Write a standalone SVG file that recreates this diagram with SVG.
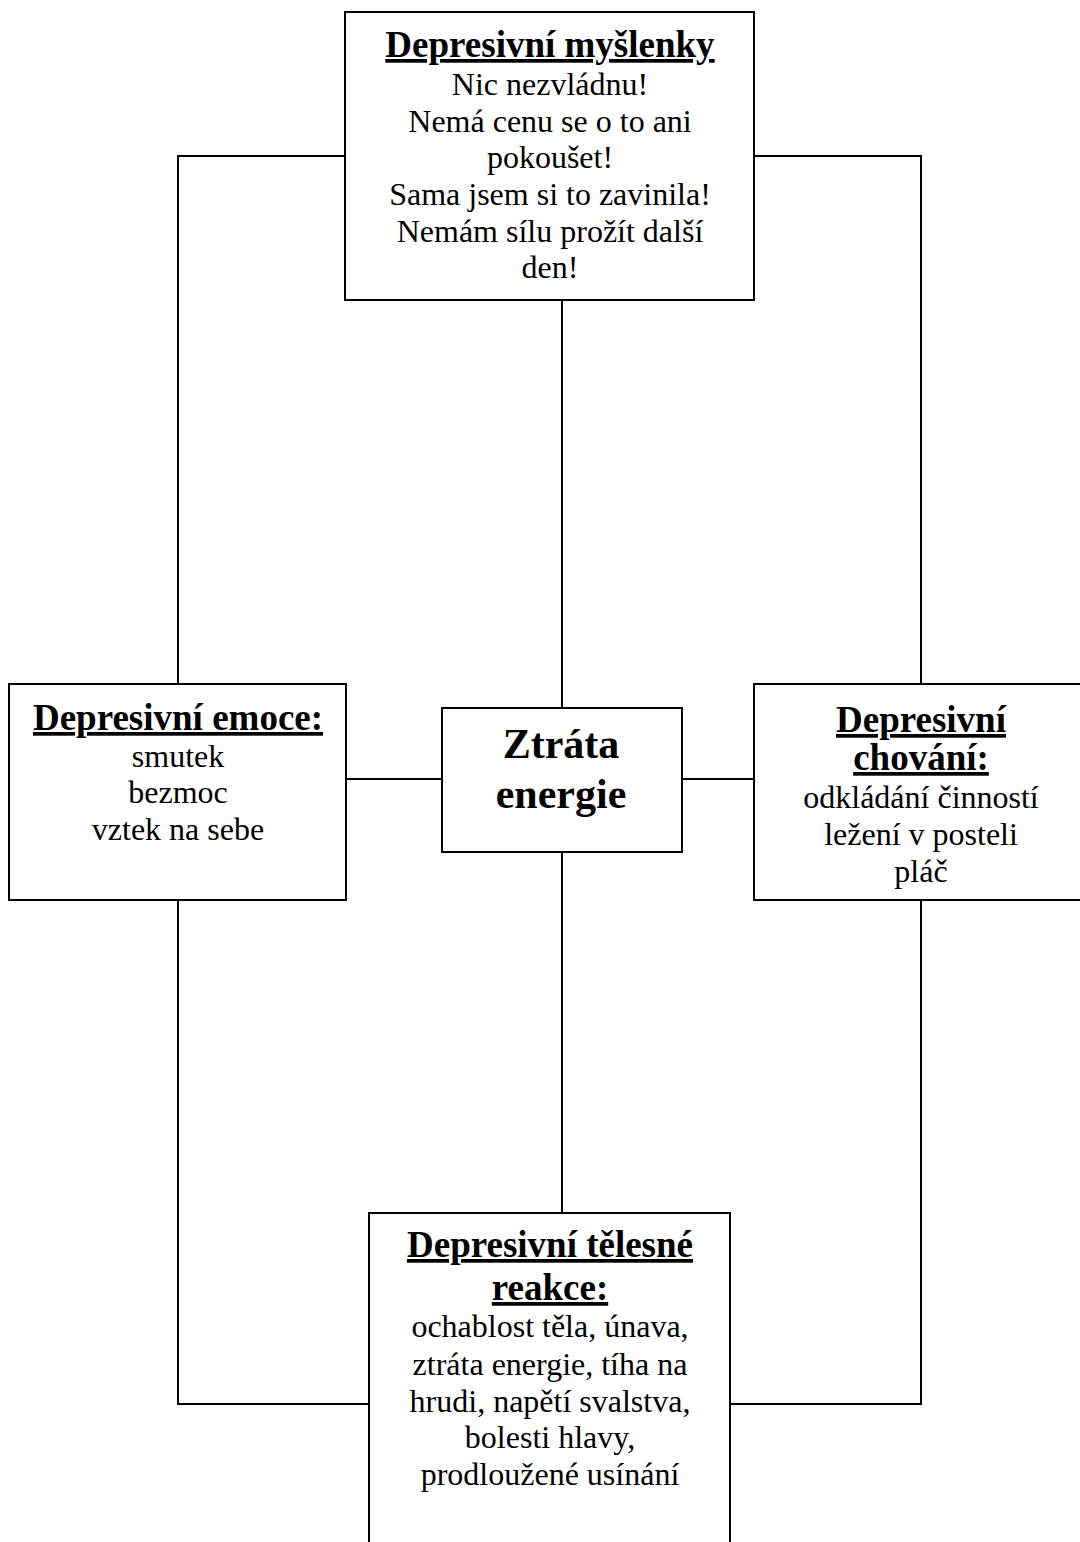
<svg xmlns="http://www.w3.org/2000/svg" width="1080" height="1542" viewBox="0 0 1080 1542">
<style>
.box{fill:#fff;stroke:#000;stroke-width:2}
.con{fill:none;stroke:#000;stroke-width:2}
text{font-family:"Liberation Serif","Times New Roman",serif;fill:#000;text-anchor:middle}
.t{font-size:37px;font-weight:bold;text-decoration:underline}
.b{font-size:32px}
.c{font-size:42px;font-weight:bold}
</style>
<rect width="1080" height="1542" fill="#fff"/>
<g id="connectors">
<polyline class="con" points="345,156 178,156 178,684"/>
<polyline class="con" points="754,156 921,156 921,684"/>
<line class="con" x1="562" y1="300" x2="562" y2="708"/>
<line class="con" x1="346" y1="779" x2="442" y2="779"/>
<line class="con" x1="682" y1="779" x2="754" y2="779"/>
<line class="con" x1="562" y1="852" x2="562" y2="1213"/>
<polyline class="con" points="178,900 178,1404 369,1404"/>
<polyline class="con" points="921,900 921,1404 730,1404"/>
</g>
<g id="thoughts">
<rect class="box" x="345" y="12" width="409" height="288"/>
<text class="t" x="550" y="57">Depresivní myšlenky</text>
<text class="b" x="550" y="95">Nic nezvládnu!</text>
<text class="b" x="550" y="132">Nemá cenu se o to ani</text>
<text class="b" x="550" y="168">pokoušet!</text>
<text class="b" x="550" y="205">Sama jsem si to zavinila!</text>
<text class="b" x="550" y="242">Nemám sílu prožít další</text>
<text class="b" x="550" y="278">den!</text>
</g>
<g id="emotions">
<rect class="box" x="9" y="684" width="337" height="216"/>
<text class="t" x="178" y="730">Depresivní emoce:</text>
<text class="b" x="178" y="767">smutek</text>
<text class="b" x="178" y="803">bezmoc</text>
<text class="b" x="178" y="840">vztek na sebe</text>
</g>
<g id="center">
<rect class="box" x="442" y="708" width="240" height="144"/>
<text class="c" x="561" y="758">Ztráta</text>
<text class="c" x="561" y="808">energie</text>
</g>
<g id="behavior">
<rect class="box" x="754" y="684" width="334" height="216"/>
<text class="t" x="921" y="732">Depresivní</text>
<text class="t" x="921" y="770">chování:</text>
<text class="b" x="921" y="808">odkládání činností</text>
<text class="b" x="921" y="845">ležení v posteli</text>
<text class="b" x="921" y="882">pláč</text>
</g>
<g id="body">
<rect class="box" x="369" y="1213" width="361" height="340"/>
<text class="t" x="550" y="1257">Depresivní tělesné</text>
<text class="t" x="550" y="1300">reakce:</text>
<text class="b" x="550" y="1337">ochablost těla, únava,</text>
<text class="b" x="550" y="1375">ztráta energie, tíha na</text>
<text class="b" x="550" y="1412">hrudi, napětí svalstva,</text>
<text class="b" x="550" y="1448">bolesti hlavy,</text>
<text class="b" x="550" y="1485">prodloužené usínání</text>
</g>
</svg>
